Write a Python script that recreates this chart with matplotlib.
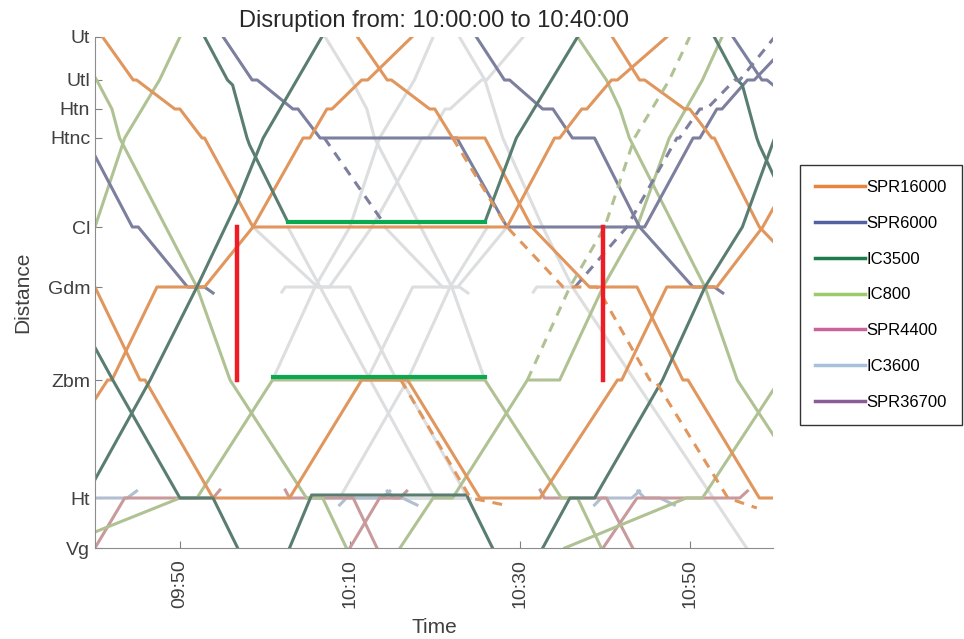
import matplotlib.pyplot as plt
from matplotlib.lines import Line2D
from matplotlib.ticker import FuncFormatter

plt.rcParams['font.family'] = ['Liberation Sans', 'DejaVu Sans']

# stations and their distance (km from Ut)
stations = ['Ut', 'Utl', 'Htn', 'Htnc', 'Cl', 'Gdm', 'Zbm', 'Ht', 'Vg']
station_km = [0.0, 4.3, 7.2, 10.1, 19.0, 25.0, 34.3, 46.1, 51.1]
KM = dict(zip(stations, station_km))

# train paths: (minutes after 09:00, station or km)
spr16000 = [
    [(29.0, 'Cl'), (36.5, 'Gdm'), (40.0, 'Gdm'), (45.3, 'Zbm'), (45.9, 'Zbm'), (53.9, 'Ht'), (62.9, 'Ht'),
     (71.4, 'Zbm'), (76.8, 'Zbm'), (85.3, 'Ht'), (92.4, 'Ht'), (101.5, 'Zbm'), (102.0, 'Zbm'),
     (107.3, 'Gdm'), (113.2, 'Gdm'), (118.6, 'Cl'), (124.5, 'Htnc')],
    [(32.4, 'Ht'), (41.5, 'Zbm'), (42.0, 'Zbm'), (47.3, 'Gdm'), (52.9, 'Gdm'), (58.6, 'Cl'), (64.5, 'Htnc'),
     (65.3, 'Htnc'), (67.3, 'Htn'), (67.9, 'Htn'), (71.4, 'Utl'), (72.1, 'Utl'), (77.3, 'Ut')],
    [(40.9, 'Ut'), (44.5, 'Utl'), (44.9, 'Utl'), (49.4, 'Htn'), (50.0, 'Htn'), (52.6, 'Htnc'), (52.9, 'Htnc'),
     (58.6, 'Cl'), (88.5, 'Cl'), (94.1, 'Htnc'), (94.7, 'Htnc'), (97.3, 'Htn'), (97.9, 'Htn'),
     (100.8, 'Utl'), (101.5, 'Utl'), (107.3, 'Ut')],
    [(70.9, 'Ut'), (74.4, 'Utl'), (74.9, 'Utl'), (79.4, 'Htn'), (80.0, 'Htn'), (82.1, 'Htnc'), (85.9, 'Htnc'),
     (91.4, 'Cl'), (98.2, 'Gdm'), (103.8, 'Gdm'), (109.2, 'Zbm'), (109.8, 'Zbm'), (118.2, 'Ht'), (122.0, 'Ht')],
    [(100.9, 'Ut'), (104.1, 'Utl'), (104.7, 'Utl'), (109.4, 'Htn'), (110.0, 'Htn'), (112.6, 'Htnc'),
     (112.9, 'Htnc'), (118.2, 'Cl'), (125.0, 'Gdm')],
]
spr16000_plan = [
    [(82.1, 'Htnc'), (88.5, 'Cl'), (95.1, 'Gdm'), (99.1, 'Gdm'), (105.3, 'Zbm'), (105.9, 'Zbm'),
     (114.5, 'Ht'), (117.9, 47.1)],
    [(76.0, 'Zbm'), (84.2, 'Ht'), (88.8, 46.9)],
]

spr6000 = [
    [(38.9, 'Htnc'), (44.4, 'Cl'), (45.1, 'Cl'), (50.9, 'Gdm'), (52.9, 'Gdm'), (53.9, 25.6)],
    [(55.1, 'Ut'), (58.5, 'Utl'), (59.1, 'Utl'), (63.3, 'Htn'), (63.9, 'Htn'), (66.5, 'Htnc'), (82.6, 'Htnc'),
     (88.5, 'Cl'), (104.7, 'Cl'), (110.4, 'Htnc'), (111.2, 'Htnc'), (113.2, 'Htn'), (113.8, 'Htn'),
     (116.8, 'Utl'), (117.6, 'Utl'), (122.4, 'Ut')],
    [(84.9, 'Ut'), (88.2, 'Utl'), (88.8, 'Utl'), (92.7, 'Htn'), (93.9, 'Htn'), (96.2, 'Htnc'), (98.8, 'Htnc'),
     (104.1, 'Cl'), (110.4, 'Gdm'), (112.9, 'Gdm'), (113.9, 25.6)],
    [(115.1, 'Ut'), (118.5, 'Utl'), (119.1, 'Utl'), (123.3, 'Htn')],
]
spr6000_plan = [
    [(67.0, 'Htnc'), (73.9, 18.5)],
    [(96.5, 'Gdm'), (102.6, 'Cl'), (108.5, 'Htnc'), (108.8, 'Htnc'), (111.2, 'Htn'), (112.0, 'Htn'),
     (115.3, 'Utl'), (115.9, 'Utl'), (120.0, 'Ut')],
]

ic3500 = [
    [(52.9, 'Ut'), (55.6, 'Utl'), (56.2, 4.8), (57.9, 'Htnc'), (58.2, 10.8), (62.7, 18.5), (85.9, 18.5),
     (89.6, 'Htnc'), (96.8, 'Ut')],
    [(32.7, 'Vg'), (35.9, 'Ht'), (38.8, 'Ht'), (46.5, 'Zbm'), (52.0, 'Gdm'), (56.7, 16.6), (59.8, 'Htnc'),
     (66.7, 'Ut')],
    [(92.7, 'Vg'), (95.9, 'Ht'), (98.8, 'Ht'), (106.8, 'Zbm'), (111.8, 'Gdm'), (116.2, 'Cl'), (120.0, 'Htnc'),
     (127.2, 'Ut')],
    [(36.1, 'Gdm'), (42.1, 'Zbm'), (50.0, 'Ht'), (53.9, 'Ht'), (56.8, 'Vg')],
    [(112.9, 'Ut'), (115.6, 'Utl'), (116.2, 4.8), (117.9, 'Htnc'), (118.2, 10.8), (122.7, 'Cl')],
    [(62.9, 'Vg'), (65.5, 45.8), (83.8, 45.8), (83.9, 'Ht'), (86.8, 'Vg')],
]

ic800 = [
    [(30.9, 'Zbm'), (35.9, 'Gdm'), (40.0, 'Cl'), (43.5, 'Htnc'), (47.6, 'Utl'), (50.0, 'Ut')],
    [(37.1, 'Ut'), (40.2, 'Utl'), (42.0, 'Htn'), (42.9, 'Htnc'), (52.0, 'Gdm'), (55.9, 'Zbm'), (64.9, 'Ht'),
     (66.8, 'Ht'), (69.6, 'Vg')],
    [(35.3, 'Vg'), (50.0, 'Ht'), (52.0, 'Ht'), (60.9, 'Zbm'), (85.9, 'Zbm'), (94.9, 'Ht'), (96.8, 'Ht'),
     (99.6, 'Vg')],
    [(75.9, 'Vg'), (79.8, 'Ht'), (82.1, 'Ht'), (90.9, 'Zbm'), (94.7, 'Zbm'), (99.8, 'Gdm'), (103.8, 'Cl'),
     (107.6, 'Htnc'), (111.5, 'Utl'), (113.8, 'Ut')],
    [(96.8, 'Ut'), (100.2, 'Utl'), (101.8, 'Htn'), (102.9, 'Htnc'), (111.8, 'Gdm'), (115.6, 'Zbm'),
     (124.7, 'Ht')],
    [(95.3, 'Vg'), (109.6, 'Ht'), (111.5, 'Ht'), (120.6, 'Zbm')],
]
ic800_plan = [
    [(90.9, 'Zbm'), (95.9, 'Gdm'), (100.0, 'Cl'), (103.5, 'Htnc'), (107.6, 'Utl'), (110.0, 'Ut')],
]

spr4400 = [
    [(40.0, 'Vg'), (43.5, 'Ht'), (53.9, 'Ht'), (54.7, 45.3)],
    [(70.0, 'Vg'), (73.5, 'Ht'), (75.9, 'Ht'), (76.7, 45.4)],
    [(62.4, 45.3), (62.9, 'Ht'), (70.4, 'Ht'), (73.2, 'Vg')],
    [(99.8, 'Vg'), (103.8, 'Ht'), (115.9, 'Ht'), (116.8, 45.4)],
    [(92.4, 45.3), (92.9, 'Ht'), (100.2, 'Ht'), (103.3, 'Vg')],
]

ic3600 = [
    [(39.2, 46.8), (40.0, 'Ht'), (43.8, 'Ht'), (44.9, 45.4)],
    [(68.8, 46.8), (69.6, 'Ht'), (73.8, 'Ht'), (74.7, 45.4)],
    [(74.4, 45.4), (75.2, 'Ht'), (76.2, 'Ht'), (77.9, 46.8)],
    [(98.8, 46.8), (99.6, 'Ht'), (103.2, 'Ht'), (104.1, 45.4)],
    [(103.9, 45.4), (104.7, 'Ht'), (106.5, 'Ht'), (108.2, 46.8)],
]

cancelled = [
    [(58.6, 'Cl'), (66.2, 'Gdm'), (70.0, 'Gdm'), (75.5, 'Zbm'), (76.1, 'Zbm'), (83.9, 'Ht')],
    [(72.0, 'Zbm'), (77.4, 'Gdm'), (82.7, 'Gdm'), (88.5, 'Cl')],
    [(60.9, 'Zbm'), (65.9, 'Gdm'), (70.0, 'Cl'), (73.5, 'Htnc'), (77.6, 'Utl'), (79.8, 'Ut')],
    [(67.1, 'Ut'), (70.2, 'Utl'), (72.0, 'Htn'), (72.9, 'Htnc'), (82.0, 'Gdm'), (85.9, 'Zbm')],
    [(62.7, 'Cl'), (66.5, 'Gdm'), (72.4, 'Zbm'), (80.0, 'Ht'), (83.9, 'Ht')],
    [(68.8, 'Ht'), (76.8, 'Zbm'), (81.8, 'Gdm'), (86.2, 'Cl')],
    [(82.9, 'Ut'), (85.9, 'Utl'), (88.0, 'Htnc'), (92.7, 'Cl'), (96.2, 'Gdm'), (116.7, 'Vg')],
    [(62.0, 25.5), (62.4, 'Gdm'), (67.6, 'Gdm'), (72.6, 'Cl'), (78.5, 'Htnc'), (79.2, 'Htnc'), (81.2, 'Htn'),
     (81.8, 'Htn'), (85.5, 'Utl'), (86.1, 'Utl'), (90.4, 'Ut')],
    [(74.1, 'Cl'), (80.9, 'Gdm'), (82.9, 'Gdm'), (83.9, 25.6)],
    [(91.6, 25.5), (92.0, 'Gdm'), (96.5, 'Gdm')],
    [(65.5, 'Ht'), (84.1, 'Ht')],
]

# short turn holds (bright green) and disruption bounds (red)
holds = [[(62.7, 18.5), (85.9, 18.5)], [(60.9, 34.0), (85.9, 34.0)]]
disruption = [[(56.7, 'Cl'), (56.7, 'Zbm')], [(99.8, 'Cl'), (99.8, 'Zbm')]]

legend_names = ['SPR16000', 'SPR6000', 'IC3500', 'IC800', 'SPR4400', 'IC3600', 'SPR36700']
legend_colors = ['#E8823C', '#5361A0', '#1F7A4C', '#9DCB6B', '#C8649B', '#A8C0DB', '#8B5C98']


def draw(ax, paths, color, lw=2.2, **kw):
    for p in paths:
        t = [a for a, b in p]
        y = [KM[b] if isinstance(b, str) else b for a, b in p]
        ax.plot(t, y, color=color, lw=lw, solid_joinstyle='round', **kw)


fig = plt.figure(figsize=(9.64, 6.39), dpi=100)
ax = fig.add_axes([0.0985, 0.1424, 0.7033, 0.7997])

dash = dict(linestyle=(0, (3.2, 2.6)))
draw(ax, cancelled, '#DDDEE0')
draw(ax, ic3600, '#B1BFD0')
draw(ax, spr4400, '#C99A9C')
draw(ax, ic800, '#B0C293')
draw(ax, spr6000, '#7C7F9E')
draw(ax, spr16000, '#E0965C')
draw(ax, ic3500, '#5A7D72')
draw(ax, ic800_plan, '#B0C293', **dash)
draw(ax, spr6000_plan, '#7C7F9E', **dash)
draw(ax, spr16000_plan, '#E0965C', **dash)
draw(ax, holds, '#0AA84F', lw=3.0)
draw(ax, disruption, '#EE1C25', lw=3.2)

ax.set_xlim(40, 119.8)
ax.set_ylim(51.1, 0)
ax.set_yticks(station_km)
ax.set_yticklabels(stations)
ax.set_xticks([50, 70, 90, 110])
ax.xaxis.set_major_formatter(FuncFormatter(lambda v, p: '%02d:%02d' % (9 + int(v) // 60, int(v) % 60)))
for lab in ax.get_xticklabels():
    lab.set_rotation(90)
ax.tick_params(direction='in', length=5, color='#808080', labelcolor='#404040', labelsize=14)
ax.tick_params(axis='x', pad=8)
for s in ['top', 'right']:
    ax.spines[s].set_visible(False)
for s in ['left', 'bottom']:
    ax.spines[s].set_color('#8c8c8c')

ax.set_xlabel('Time', fontsize=15, color='#404040', labelpad=7)
ax.set_ylabel('Distance', fontsize=15, color='#404040', labelpad=11)
ax.set_title('Disruption from: 10:00:00 to 10:40:00', fontsize=17, color='#262626', pad=7)

handles = [Line2D([], [], color=c, lw=2.5) for c in legend_colors]
fig.legend(handles, legend_names, loc='upper left', bbox_to_anchor=(800 / 964, 1 - 165 / 639),
           fontsize=12, handlelength=3.0, handletextpad=0.1, labelspacing=1.25, borderpad=0.9,
           borderaxespad=0, fancybox=False, edgecolor='#333333', framealpha=1)

fig.savefig('out.png', dpi=100)
